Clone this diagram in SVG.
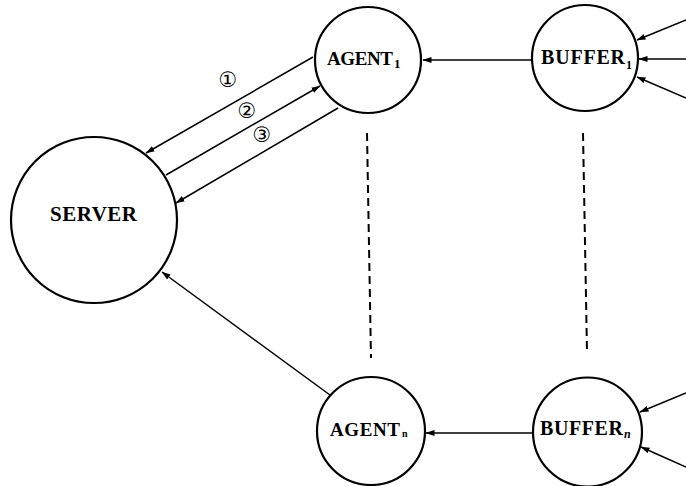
<svg xmlns="http://www.w3.org/2000/svg" width="686" height="486" viewBox="0 0 686 486">
<style>
.node{fill:#fff;stroke:#000;stroke-width:2.2}
.lbl{font-family:"Liberation Serif",serif;font-weight:bold;font-size:20px;fill:#000}
.sub{font-family:"Liberation Serif",serif;font-weight:bold;fill:#000}
.conn{stroke:#000;stroke-width:1.5;fill:none}
.dash{stroke:#000;stroke-width:2;fill:none;stroke-dasharray:8 5}
.num{font-family:"DejaVu Sans",sans-serif;font-size:21px;fill:#000;text-anchor:middle}
</style>
<defs>
<marker id="arr" markerWidth="9" markerHeight="7" refX="8.5" refY="3.5" orient="auto" markerUnits="userSpaceOnUse">
<path d="M0,0.5 L9,3.5 L0,6.5 Z" fill="#000"/>
</marker>
</defs>
<rect width="686" height="486" fill="#fff"/>
<g id="connectors">
<line class="conn" x1="532" y1="60" x2="423" y2="60" marker-end="url(#arr)"/>
<line class="conn" x1="533" y1="433" x2="426" y2="433" marker-end="url(#arr)"/>
<line class="conn" x1="686" y1="20" x2="637" y2="40" marker-end="url(#arr)"/>
<line class="conn" x1="686" y1="59" x2="639" y2="59" marker-end="url(#arr)"/>
<line class="conn" x1="686" y1="98" x2="637" y2="77" marker-end="url(#arr)"/>
<line class="conn" x1="686" y1="393" x2="640" y2="412" marker-end="url(#arr)"/>
<line class="conn" x1="686" y1="467" x2="641" y2="447" marker-end="url(#arr)"/>
<line class="conn" x1="313" y1="57" x2="146" y2="153" marker-end="url(#arr)"/>
<line class="conn" x1="166" y1="175" x2="320" y2="86" marker-end="url(#arr)"/>
<line class="conn" x1="338" y1="108" x2="176" y2="203" marker-end="url(#arr)"/>
<line class="conn" x1="330" y1="395" x2="162" y2="272" marker-end="url(#arr)"/>
<line class="dash" x1="367" y1="133" x2="371" y2="358"/>
<line class="dash" x1="583" y1="133" x2="587" y2="352"/>
<text class="num" x="228" y="87">①</text>
<text class="num" x="247" y="118">②</text>
<text class="num" x="262" y="142">③</text>
</g>
<g id="server">
<circle class="node" cx="94" cy="220" r="83"/>
<text class="lbl" x="50" y="221" style="font-size:21px" textLength="87" lengthAdjust="spacing">SERVER</text>
</g>
<g id="agent1">
<circle class="node" cx="368" cy="60" r="53"/>
<text class="lbl" x="327" y="65" style="font-size:19px" textLength="66" lengthAdjust="spacing">AGENT</text>
<text class="sub" x="394" y="68" font-size="13">1</text>
</g>
<g id="buffer1">
<circle class="node" cx="585" cy="58" r="53"/>
<text class="lbl" x="541" y="64" textLength="84" lengthAdjust="spacing">BUFFER</text>
<text class="sub" x="626" y="69" font-size="12">1</text>
</g>
<g id="agentn">
<circle class="node" cx="371" cy="431" r="54"/>
<text class="lbl" x="330" y="436" style="font-size:19px" textLength="70" lengthAdjust="spacing">AGENT</text>
<text class="sub" x="402" y="437" font-size="10">n</text>
</g>
<g id="buffern">
<circle class="node" cx="587.5" cy="432" r="54.5"/>
<text class="lbl" x="540" y="435" textLength="83" lengthAdjust="spacing">BUFFER</text>
<text class="sub" x="624" y="438" font-size="12" font-style="italic">n</text>
</g>
</svg>
